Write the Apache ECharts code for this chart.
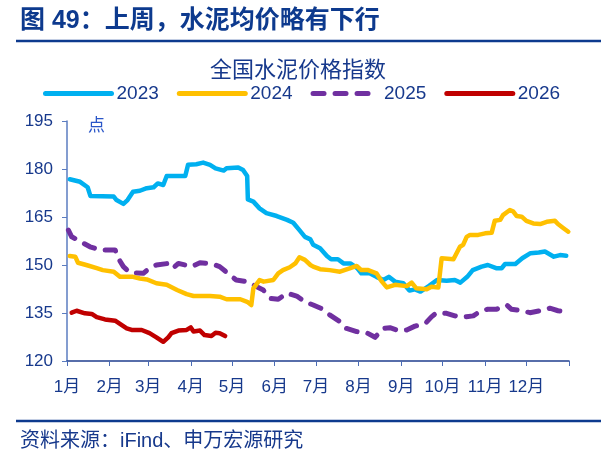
<!DOCTYPE html>
<html>
<head>
<meta charset="utf-8">
<script src="https://cdn.jsdelivr.net/npm/echarts@6/dist/echarts.min.js"></script>
<style>
  html, body { margin: 0; padding: 0; background: #fff; }
  #main { width: 613px; height: 455px; }
</style>
</head>
<body>
<div id="main"></div>
<script>
// 全国水泥价格指数，横轴为一年中的第几天
const monthStarts = [0, 31, 59, 90, 120, 151, 181, 212, 243, 273, 304, 334, 365];
const monthLabels = ['1月', '2月', '3月', '4月', '5月', '6月', '7月', '8月', '9月', '10月', '11月', '12月'];
const yearNames = ['2023', '2024', '2025', '2026'];

const s2023 = [[2,176.8],[9.5,176.0],[15,174.3],[17,171.6],[34,171.4],[36,170.3],[41,169.1],[44,170.3],[48,172.9],[53,173.2],[58,174.0],[63,174.3],[66,175.5],[70,175.0],[72.5,177.8],[86,177.8],[88,181.3],[94,181.5],[99,182.0],[104,181.3],[108,180.2],[114,179.5],[116,180.2],[124.5,180.5],[128,179.7],[131,177.8],[131.5,170.5],[135.5,169.8],[140,167.7],[145,166.2],[152.5,165.3],[160,164.1],[164.5,163.2],[169,160.9],[173,158.8],[177,158.0],[179,156.3],[184,155.2],[189,152.8],[192,151.8],[197,151.8],[201,150.5],[206,150.5],[211,149.0],[214,147.4],[220,147.4],[225,146.3],[230,145.3],[234,146.3],[238.5,144.8],[244.5,144.3],[249,142.0],[253,142.4],[257,141.7],[263,143.4],[269,145.3],[276,145.1],[282,145.3],[286,144.5],[291,146.3],[295,148.4],[301.5,149.5],[306,150.0],[312,149.0],[316,149.0],[318.5,150.3],[326,150.3],[331,152.1],[337,153.7],[343,153.9],[347.5,154.2],[354,152.6],[358.5,153.1],[363,152.9]];

const s2024 = [[2,152.8],[6,152.6],[8,150.7],[14,150.0],[21.6,149.0],[26,148.4],[34,147.9],[38.5,146.3],[48,146.3],[53,145.8],[58,145.5],[65,144.3],[72.5,143.8],[80,142.2],[87,140.9],[92,140.3],[104,140.3],[111,140.1],[116,139.3],[126,139.3],[131,138.5],[134,137.5],[135.5,142.7],[140,145.3],[143,144.8],[150,145.3],[153.6,147.4],[157,148.4],[162,149.3],[166,150.5],[169,152.4],[173,151.6],[177,150.0],[179,149.5],[184,148.7],[191,148.4],[198.5,147.9],[206,149.0],[210.6,149.7],[214,148.4],[219,148.4],[225,147.4],[229,144.8],[232.5,143.0],[238.5,143.8],[247,143.4],[250.6,144.5],[254,142.7],[261.5,142.4],[265,143.2],[270,143.0],[272.4,152.1],[281,151.8],[285.7,155.7],[288,156.3],[290.6,158.8],[293,159.4],[299,159.4],[304,159.9],[308.8,160.1],[311,163.8],[315,164.1],[317,165.6],[322,167.2],[324.5,166.7],[327,165.3],[330.6,165.1],[334,163.8],[339,163.0],[344,162.8],[348.8,163.5],[354.8,163.8],[357,162.8],[361,161.5],[364.5,160.4]];

const s2025 = [[1,160.9],[3.4,158.8],[8,157.8],[12,156.8],[16.7,155.7],[24,154.7],[35,154.7],[37.3,152.1],[41,149.5],[45.8,147.6],[55.5,147.4],[60,149.0],[65,150.0],[73.7,150.5],[77,149.0],[81,150.5],[86,150.0],[90.7,149.5],[96.7,150.7],[106,150.3],[111,149.5],[117,147.4],[123,145.3],[130.7,144.8],[138,143.2],[142.7,142.2],[147.6,139.6],[153.6,139.3],[160,141.2],[167,140.3],[173,138.5],[179,137.5],[186,136.2],[191,134.4],[198.5,132.3],[203,130.2],[210.6,129.2],[218,128.8],[224,127.4],[230,130.2],[234.8,130.4],[241,129.5],[247,129.7],[253,130.9],[260.3,131.6],[265,133.8],[268.8,135.1],[276,134.9],[282,134.1],[288,133.7],[295.4,134.1],[300,135.4],[306,136.2],[312.4,136.2],[319.7,137.5],[323,136.2],[330.6,135.7],[336.6,135.1],[344,135.7],[351,136.5],[357,135.7],[364.5,135.4]];

const s2026 = [[3.4,135.1],[7,135.7],[13,134.9],[18,134.7],[21.6,133.7],[27.6,133.0],[35,132.6],[38.5,131.6],[43.4,130.2],[47,129.7],[54.3,129.7],[60,128.7],[65,127.4],[70,126.0],[73.6,127.4],[76,128.7],[81,129.5],[87,129.7],[90,130.5],[92,129.2],[96.7,129.5],[100,128.1],[105,127.8],[108,128.8],[111,128.7],[115,127.8]];

const navy = '#17398c';
const fontCn = '"Liberation Sans", Arial, "Noto Sans CJK SC", sans-serif';

const myChart = echarts.init(document.getElementById('main'));

function lineSeries(name, data, color, dashed) {
  return {
    name: name,
    type: 'line',
    data: data,
    symbol: 'none',
    lineStyle: {
      color: color,
      width: dashed ? 5 : 4.5,
      type: dashed ? [11, 11] : 'solid',
      cap: 'round',
      join: 'round'
    },
    itemStyle: { color: color },
    z: dashed ? 2 : 3
  };
}

myChart.setOption({
  animation: false,
  textStyle: { fontFamily: fontCn },
  title: [
    {
      text: '图 49：上周，水泥均价略有下行',
      left: 15,
      top: 4,
      textStyle: { color: '#0d3a8e', fontSize: 25, fontWeight: 'bold', fontFamily: fontCn }
    },
    {
      text: '全国水泥价格指数',
      left: 205,
      top: 55,
      textStyle: { color: navy, fontSize: 22, fontWeight: 'normal', fontFamily: fontCn }
    },
    {
      text: '资料来源：iFind、申万宏源研究',
      left: 15,
      top: 426,
      textStyle: { color: navy, fontSize: 20, fontWeight: 'normal', fontFamily: fontCn }
    }
  ],
  graphic: [
    { type: 'line', shape: { x1: 16, y1: 41, x2: 601, y2: 41 }, style: { stroke: '#0d3a8e', lineWidth: 2.5 } },
    { type: 'line', shape: { x1: 16, y1: 421, x2: 601, y2: 421 }, style: { stroke: '#0d3a8e', lineWidth: 2.5 } }
  ],
  legend: {
    data: yearNames,
    left: 38,
    top: 79,
    itemWidth: 66,
    itemHeight: 14,
    itemGap: 18,
    itemStyle: { opacity: 0 },
    lineStyle: { width: 5, cap: 'round' },
    textStyle: { color: navy, fontSize: 19, fontFamily: fontCn }
  },
  grid: { left: 67, right: 44, top: 121, bottom: 94 },
  xAxis: {
    type: 'value',
    min: 0,
    max: 365,
    axisLine: { lineStyle: { color: '#203f8f', width: 1.5 } },
    axisTick: { show: true, customValues: monthStarts, length: 5, lineStyle: { color: '#4a6cb5' } },
    axisLabel: {
      customValues: monthStarts.slice(0, 12),
      formatter: function (v) { return monthLabels[monthStarts.indexOf(v)] || ''; },
      color: navy,
      fontSize: 17,
      margin: 18
    },
    splitLine: { show: false }
  },
  yAxis: {
    type: 'value',
    min: 120,
    max: 195,
    interval: 15,
    name: '点',
    nameLocation: 'end',
    nameGap: 3,
    nameTextStyle: { color: '#2a56c8', fontSize: 17, align: 'left', verticalAlign: 'top', padding: [0, 0, 0, 21] },
    axisLine: { show: true, lineStyle: { color: '#5b7cc0', width: 1.5 } },
    axisTick: { show: true, length: 5, lineStyle: { color: '#5b7cc0' } },
    axisLabel: { color: navy, fontSize: 17, margin: 14 },
    splitLine: { show: false }
  },
  series: [
    lineSeries('2023', s2023, '#00b0f0', false),
    lineSeries('2024', s2024, '#ffc000', false),
    lineSeries('2025', s2025, '#7030a0', true),
    lineSeries('2026', s2026, '#c00000', false)
  ]
});
</script>
</body>
</html>
